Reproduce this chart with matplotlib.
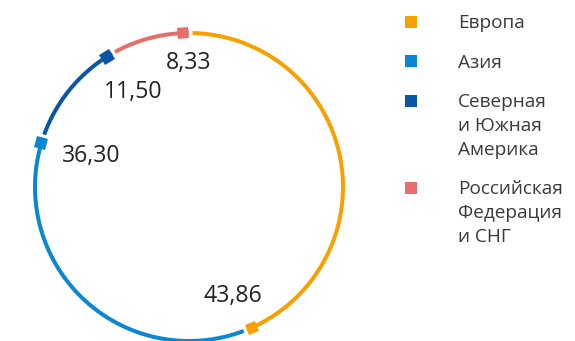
import numpy as np
import matplotlib.pyplot as plt
from matplotlib.markers import MarkerStyle
from matplotlib.transforms import Affine2D

# Regions and shares, %
regions = ["Европа", "Азия", "Северная\nи Южная\nАмерика",
           "Российская\nФедерация\nи СНГ"]
shares = [43.86, 36.30, 11.50, 8.33]
colors = ["#F7A100", "#0A87D0", "#0B56A4", "#E56F6B"]

plt.rcParams["font.family"] = ["Open Sans", "DejaVu Sans"]

W, H = 575, 341
fig = plt.figure(figsize=(W / 72, H / 72), dpi=72)
ax = fig.add_axes([0, 0, 1, 1])
ax.set_xlim(0, W)
ax.set_ylim(H, 0)
ax.axis("off")

# ring geometry in pixels
cx, cy, R = 189, 187, 154
gap = np.degrees(3.5 / R)
half_sq = np.degrees(5.5 / R)


def pos(theta, r=R):
    t = np.radians(theta)
    return cx + r * np.cos(t), cy - r * np.sin(t)


start = 90.0
for share, col in zip(shares, colors):
    end = start - share / 100 * 360
    th = np.linspace(start - gap, end, 200)
    x, y = pos(th)
    ax.plot(x, y, color=col, lw=4, solid_capstyle="butt")
    # square marker sitting just before the end of the segment
    mth = end + half_sq
    mx, my = pos(mth)
    m = MarkerStyle("s", transform=Affine2D().rotate_deg(mth))
    ax.plot(mx, my, marker=m, ms=11, color=col, mew=0, ls="none")
    # value label inside the ring near the segment end
    t = np.radians(end)
    txt = f"{share:.2f}".replace(".", ",")
    w = 12.5 * len(txt)
    ext = abs(np.cos(t)) * w / 2 + abs(np.sin(t)) * 8.5
    lx, ly = pos(end, R - 19 - ext)
    ax.text(lx, ly + 8, txt, fontsize=23, color="#222222",
            ha="center", va="baseline")
    start = end

# legend on the right
y0 = 21.5
for name, col in zip(regions, colors):
    ax.plot(411, y0, marker="s", ms=12, color=col, mew=0, ls="none")
    lines = name.split("\n")
    for i, line in enumerate(lines):
        ax.text(458, y0 + 6.5 + i * 24, line, fontsize=19, color="#3a3a3a",
                ha="left", va="baseline")
    y0 += (len(lines) - 1) * 24 + 39.5

fig.savefig("out.png", dpi=72)
